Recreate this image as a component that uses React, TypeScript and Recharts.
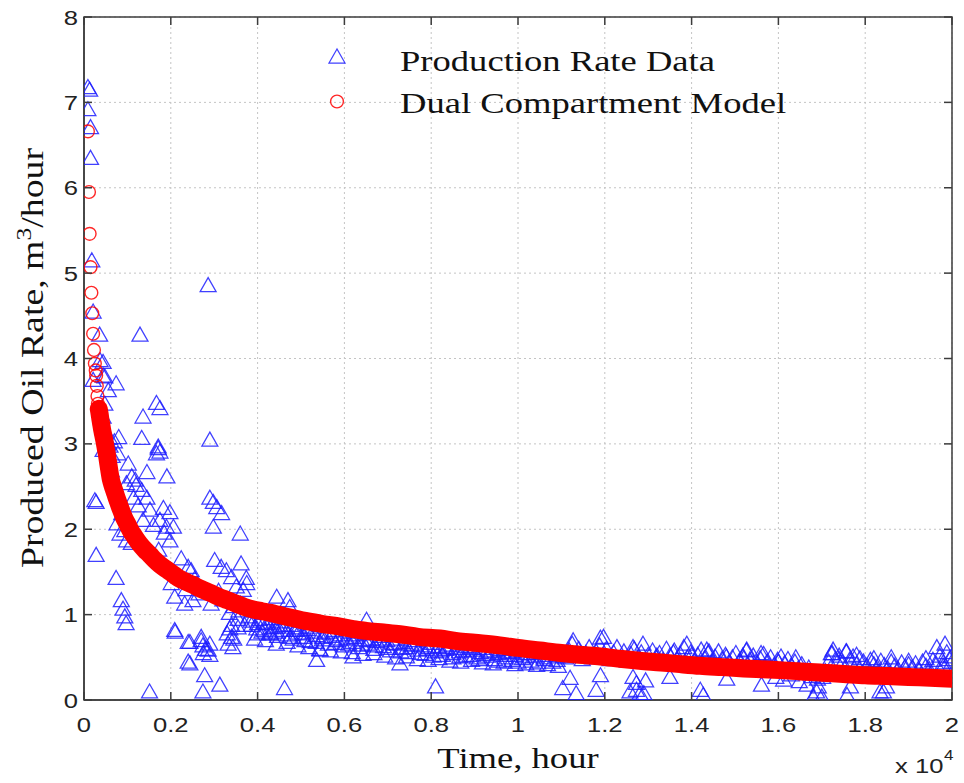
import React from 'react';
import { ScatterChart, Scatter, XAxis, YAxis, CartesianGrid, ReferenceArea, Legend } from 'recharts';

// ---------- DATA (time in units of 10^4 hours, rate in m3/hour) ----------
const xTicks = [0, 0.2, 0.4, 0.6, 0.8, 1, 1.2, 1.4, 1.6, 1.8, 2];
const yTicks = [0, 1, 2, 3, 4, 5, 6, 7, 8];
const seriesNames = ['Production Rate Data', 'Dual Compartment Model'];

const earlyScatter: [number, number][] = [
  [0.009, 7.18], [0.013, 7.15], [0.009, 6.92], [0.015, 6.71], [0.015, 6.35], [0.018, 5.15], [0.021, 4.55],
  [0.036, 4.28], [0.129, 4.28], [0.286, 4.86], [0.037, 3.98], [0.044, 3.96], [0.021, 3.75], [0.044, 3.8],
  [0.048, 3.79], [0.074, 3.71], [0.056, 3.63], [0.167, 3.48], [0.175, 3.42], [0.048, 3.47], [0.136, 3.32],
  [0.044, 3.32], [0.133, 3.07], [0.29, 3.05], [0.051, 3.08], [0.059, 3.07], [0.07, 3.03], [0.08, 3.08],
  [0.055, 3.01], [0.044, 2.93], [0.078, 2.89], [0.171, 2.97], [0.175, 2.91], [0.167, 2.89], [0.171, 2.95],
  [0.102, 2.77], [0.145, 2.67], [0.191, 2.62], [0.11, 2.62], [0.063, 2.69], [0.098, 2.54], [0.118, 2.58],
  [0.133, 2.46], [0.145, 2.37], [0.114, 2.37], [0.29, 2.37], [0.298, 2.32], [0.306, 2.26], [0.317, 2.19],
  [0.087, 2.19], [0.152, 2.23], [0.183, 2.25], [0.198, 2.2], [0.076, 2.07], [0.136, 2.11], [0.175, 2.11],
  [0.19, 2.03], [0.206, 2.03], [0.298, 2.03], [0.36, 1.95], [0.083, 1.95], [0.098, 1.87], [0.198, 1.87],
  [0.025, 2.34], [0.028, 2.32], [0.028, 1.7], [0.074, 1.43], [0.086, 1.17], [0.09, 1.07], [0.094, 0.98],
  [0.097, 0.9], [0.209, 0.82], [0.244, 0.68], [0.27, 0.74], [0.274, 0.64], [0.286, 0.59], [0.29, 0.53],
  [0.244, 0.43], [0.278, 0.29], [0.313, 0.18], [0.274, 0.1], [0.151, 0.1], [0.462, 0.14], [0.336, 0.84],
  [0.34, 0.74], [0.332, 0.66], [0.343, 0.62], [0.209, 1.21], [0.201, 1.37], [0.224, 1.66], [0.24, 1.56],
  [0.247, 1.52], [0.232, 1.13], [0.251, 1.17], [0.293, 1.13], [0.301, 1.64], [0.316, 1.56], [0.328, 1.52],
  [0.34, 1.44], [0.351, 1.33], [0.362, 1.6], [0.374, 1.43], [0.172, 1.76], [0.094, 1.99], [0.109, 1.84],
  [0.367, 1.29], [0.375, 1.37], [0.36, 1.13], [0.444, 1.21], [0.47, 1.17], [0.474, 1.09], [0.357, 1.05],
  [0.4, 0.9], [0.416, 0.82], [0.431, 0.78], [0.447, 0.86], [0.486, 0.82], [0.509, 0.7], [0.536, 0.47],
  [0.544, 0.59], [0.62, 0.51], [0.651, 0.94], [0.728, 0.43], [0.81, 0.16],
  [0.27, 0.7], [0.28, 0.6], [0.29, 0.66], [0.275, 0.55], [0.33, 0.78], [0.345, 0.72], [0.355, 0.85],
  [0.34, 0.88], [0.21, 0.8], [0.24, 0.68], [0.24, 0.45],
  [0.06, 2.98], [0.065, 2.86], [0.12, 2.52], [0.125, 2.28], [0.16, 2.05], [0.185, 1.96], [0.22, 1.45],
  [0.235, 1.3], [0.255, 1.42], [0.265, 1.25], [0.31, 1.28], [0.32, 1.18], [0.335, 1.02], [0.345, 1.1],
];

const bandUpper: [number, number][] = [
  [0.38, 0.98], [0.386, 0.88], [0.392, 1.05], [0.398, 0.84], [0.404, 0.95], [0.41, 0.8], [0.416, 1.02],
  [0.422, 0.9], [0.428, 0.78], [0.434, 0.96], [0.44, 0.86], [0.446, 0.75], [0.452, 0.92], [0.458, 0.82],
  [0.464, 0.98], [0.47, 0.77], [0.476, 0.88], [0.482, 0.72], [0.488, 0.85], [0.494, 0.79], [0.5, 0.93],
  [0.507, 0.74], [0.514, 0.83], [0.521, 0.69], [0.528, 0.8], [0.535, 0.76], [0.542, 0.88], [0.549, 0.71],
  [0.556, 0.79], [0.563, 0.66], [0.57, 0.75], [0.577, 0.82], [0.584, 0.7], [0.591, 0.77], [0.598, 0.64],
  [0.605, 0.73], [0.612, 0.8], [0.619, 0.68], [0.626, 0.74], [0.633, 0.62], [0.64, 0.71], [0.647, 0.78],
  [0.654, 0.66], [0.661, 0.72], [0.668, 0.6], [0.675, 0.69], [0.682, 0.75], [0.69, 0.63], [0.698, 0.7],
  [0.706, 0.58], [0.714, 0.67], [0.722, 0.72], [0.73, 0.61], [0.738, 0.68], [0.746, 0.56], [0.754, 0.65],
  [0.762, 0.7], [0.77, 0.59], [0.778, 0.64], [0.786, 0.54], [0.794, 0.62], [0.802, 0.67], [0.81, 0.57],
  [0.818, 0.63], [0.826, 0.53], [0.834, 0.6], [0.842, 0.65], [0.85, 0.55], [0.858, 0.61], [0.866, 0.51],
  [0.874, 0.58], [0.882, 0.63], [0.89, 0.53], [0.898, 0.59], [0.906, 0.5], [0.914, 0.56], [0.922, 0.61],
  [0.93, 0.52], [0.938, 0.57], [0.946, 0.48], [0.954, 0.55], [0.962, 0.6], [0.97, 0.5], [0.978, 0.56],
  [0.986, 0.47], [0.994, 0.53], [1.002, 0.58], [1.01, 0.49], [1.02, 0.55], [1.03, 0.46], [1.04, 0.52],
  [1.05, 0.56], [1.06, 0.48], [1.07, 0.53], [1.08, 0.45], [1.09, 0.51], [1.1, 0.55],
];

const bandLower: [number, number][] = [
  [0.393, 0.72], [0.418, 0.7], [0.443, 0.66], [0.468, 0.68], [0.493, 0.64], [0.518, 0.62], [0.543, 0.6],
  [0.568, 0.58], [0.593, 0.57], [0.618, 0.56], [0.643, 0.54], [0.668, 0.55], [0.693, 0.52], [0.718, 0.5],
  [0.743, 0.51], [0.768, 0.48], [0.793, 0.47], [0.818, 0.49], [0.843, 0.46], [0.868, 0.45], [0.893, 0.47],
  [0.918, 0.44], [0.943, 0.43], [0.968, 0.45], [0.993, 0.42], [1.018, 0.43], [1.043, 0.41], [1.068, 0.42],
  [1.093, 0.4],
];

const bandExtra: [number, number][] = [
  [0.355, 0.95], [0.37, 0.88], [0.385, 0.93], [0.4, 0.78], [0.415, 0.91], [0.43, 0.85], [0.445, 0.8],
  [0.46, 0.88], [0.475, 0.74], [0.49, 0.82], [0.505, 0.78], [0.52, 0.86], [0.535, 0.68], [0.55, 0.74],
  [0.565, 0.8], [0.58, 0.67], [0.595, 0.72], [0.61, 0.66], [0.625, 0.77], [0.64, 0.65], [0.655, 0.7],
  [0.67, 0.64], [0.685, 0.72], [0.7, 0.61], [0.715, 0.66], [0.73, 0.57], [0.745, 0.62], [0.76, 0.66],
  [0.775, 0.55], [0.79, 0.6], [0.805, 0.52], [0.82, 0.58], [0.835, 0.62], [0.85, 0.5], [0.865, 0.57],
  [0.88, 0.52], [0.895, 0.61], [0.91, 0.48], [0.925, 0.54], [0.94, 0.58], [0.955, 0.46], [0.97, 0.53],
  [0.985, 0.57], [1.0, 0.45], [1.015, 0.51], [1.03, 0.55], [1.045, 0.44], [1.06, 0.5], [1.075, 0.56],
  [1.09, 0.47], [1.105, 0.52], [1.32, 0.52], [1.36, 0.58], [1.4, 0.53], [1.44, 0.57], [1.48, 0.51],
  [1.52, 0.49], [1.56, 0.55], [1.6, 0.45], [1.64, 0.5], [1.74, 0.48], [1.78, 0.53], [1.82, 0.49],
  [1.86, 0.5], [1.9, 0.42], [1.94, 0.49], [1.98, 0.4],
];

const bandMid: [number, number][] = [
  [1.11, 0.5], [1.118, 0.58], [1.125, 0.66], [1.132, 0.52], [1.14, 0.6], [1.148, 0.48], [1.156, 0.55],
  [1.164, 0.62], [1.172, 0.5], [1.18, 0.57], [1.188, 0.64], [1.196, 0.53], [1.204, 0.6], [1.212, 0.48],
  [1.22, 0.56], [1.228, 0.62], [1.236, 0.5], [1.244, 0.57], [1.252, 0.46], [1.26, 0.54], [1.268, 0.6],
  [1.276, 0.49], [1.284, 0.56], [1.292, 0.45], [1.3, 0.53],
  [1.31, 0.58], [1.318, 0.5], [1.326, 0.55], [1.334, 0.47], [1.342, 0.6], [1.35, 0.52], [1.358, 0.56],
  [1.366, 0.48], [1.374, 0.54], [1.382, 0.62], [1.39, 0.5], [1.398, 0.56], [1.406, 0.46], [1.414, 0.53],
  [1.422, 0.59], [1.43, 0.49], [1.438, 0.55], [1.446, 0.45], [1.454, 0.51], [1.462, 0.57], [1.47, 0.48],
  [1.478, 0.53], [1.486, 0.44], [1.494, 0.5], [1.502, 0.55], [1.51, 0.46], [1.518, 0.52], [1.526, 0.58],
  [1.534, 0.47], [1.542, 0.52], [1.55, 0.43], [1.558, 0.49], [1.566, 0.54], [1.574, 0.45], [1.582, 0.5],
  [1.59, 0.41], [1.598, 0.47], [1.606, 0.51], [1.614, 0.43], [1.622, 0.48], [1.63, 0.4], [1.638, 0.45],
  [1.646, 0.37], [1.654, 0.42], [1.662, 0.33], [1.67, 0.38], [1.678, 0.28], [1.684, 0.32], [1.69, 0.25],
  [1.696, 0.3], [1.702, 0.27], [1.708, 0.34],
];

const bandLate: [number, number][] = [
  [1.716, 0.45], [1.724, 0.55], [1.732, 0.48], [1.74, 0.52], [1.748, 0.44], [1.756, 0.57], [1.764, 0.47],
  [1.772, 0.51], [1.78, 0.42], [1.788, 0.49], [1.796, 0.45], [1.804, 0.4], [1.812, 0.47], [1.82, 0.42],
  [1.828, 0.38], [1.836, 0.46], [1.844, 0.41], [1.852, 0.37], [1.86, 0.45], [1.868, 0.4], [1.876, 0.36],
  [1.884, 0.44], [1.892, 0.39], [1.9, 0.46], [1.908, 0.38], [1.916, 0.43], [1.924, 0.35], [1.932, 0.45],
  [1.94, 0.4], [1.948, 0.36], [1.956, 0.47], [1.964, 0.42], [1.972, 0.52], [1.98, 0.44], [1.988, 0.56],
  [1.994, 0.48], [2.0, 0.45],
];

const lateOutliers: [number, number][] = [
  [1.127, 0.7], [1.19, 0.73], [1.197, 0.74], [1.12, 0.26], [1.103, 0.14], [1.134, 0.08], [1.19, 0.29],
  [1.18, 0.12], [1.265, 0.27], [1.273, 0.12], [1.281, 0.08], [1.288, 0.66], [1.265, 0.62], [1.273, 0.2],
  [1.258, 0.1], [1.389, 0.66], [1.435, 0.59], [1.527, 0.59], [1.42, 0.12], [1.427, 0.06], [1.35, 0.27],
  [1.481, 0.25], [1.561, 0.18], [1.688, 0.1], [1.68, 0.04], [1.7, 0.04], [1.692, 0.16], [1.726, 0.59],
  [1.757, 0.57], [1.722, 0.55], [1.766, 0.16], [1.758, 0.06], [1.834, 0.1], [1.849, 0.16], [1.842, 0.1],
  [1.965, 0.62], [1.984, 0.66], [1.999, 0.51], [1.594, 0.27], [1.612, 0.24], [1.63, 0.3], [1.648, 0.22],
  [1.666, 0.18], [1.294, 0.23], [1.29, 0.08],
];

const modelPoints: [number, number][] = [
  [0.009, 6.66], [0.0115, 5.95], [0.013, 5.46], [0.015, 5.07], [0.017, 4.77], [0.019, 4.53], [0.021, 4.29],
  [0.023, 4.1], [0.025, 3.94], [0.027, 3.86], [0.028, 3.8], [0.0295, 3.68], [0.031, 3.56], [0.032, 3.47],
  [0.034, 3.41], [0.036, 3.35], [0.038, 3.28], [0.04, 3.22], [0.042, 3.16], [0.044, 3.11], [0.046, 3.06],
  [0.048, 3.01], [0.05, 2.95], [0.052, 2.9], [0.055, 2.8], [0.058, 2.7], [0.062, 2.58], [0.066, 2.51],
  [0.07, 2.45], [0.075, 2.37], [0.08, 2.3], [0.085, 2.23], [0.092, 2.14], [0.1, 2.06], [0.108, 1.98],
  [0.117, 1.91], [0.128, 1.83], [0.14, 1.76], [0.152, 1.7], [0.163, 1.64], [0.176, 1.58], [0.19, 1.53],
  [0.204, 1.48], [0.217, 1.43], [0.233, 1.39], [0.25, 1.35], [0.27, 1.3], [0.293, 1.25], [0.31, 1.21],
  [0.33, 1.17], [0.35, 1.13], [0.37, 1.09], [0.39, 1.06], [0.41, 1.04], [0.43, 1.02], [0.447, 1.0],
  [0.48, 0.96], [0.516, 0.92], [0.55, 0.89], [0.59, 0.86], [0.62, 0.83], [0.65, 0.81], [0.69, 0.79],
  [0.728, 0.77], [0.77, 0.74], [0.82, 0.72], [0.86, 0.69], [0.9, 0.67], [0.958, 0.64], [1.0, 0.61],
  [1.05, 0.58], [1.1, 0.55], [1.14, 0.53], [1.19, 0.51], [1.24, 0.48], [1.28, 0.46], [1.33, 0.44],
  [1.373, 0.42], [1.42, 0.4], [1.47, 0.385], [1.52, 0.37], [1.56, 0.36], [1.604, 0.35], [1.65, 0.335],
  [1.7, 0.32], [1.75, 0.305], [1.8, 0.29], [1.85, 0.28], [1.9, 0.27], [1.95, 0.26], [2.0, 0.25],
];

// ---------- derived tables ----------
const toRows = (arr: [number, number][]) => arr.map(([t, v]) => ({ t, v }));
const productionData = toRows([
  ...earlyScatter, ...bandUpper, ...bandLower, ...bandExtra, ...bandMid, ...bandLate, ...lateOutliers,
]);
const modelData = toRows(modelPoints);
const modelBandData = toRows(modelPoints.filter(([t]) => t >= 0.034));

// ---------- styling ----------
const W = 964;
const H = 783;
const PLOT = { left: 84, right: 952, top: 17, bottom: 700 };
const SX = 1.22;
const AXIS = '#3c3c3c';
const BLUE = '#1f1fff';
const RED = '#ff0000';
const SANS = '"Liberation Sans", Arial, Helvetica, sans-serif';
const SERIF = '"Liberation Serif", "Times New Roman", serif';

const fmtTick = (v: number) => String(Number(v.toFixed(1)));

const TriangleShape = (props: any) => {
  const { cx, cy } = props;
  if (cx == null || cy == null) return <g />;
  return (
    <polygon
      points={`${cx},${cy - 7.5} ${cx - 8},${cy + 6.5} ${cx + 8},${cy + 6.5}`}
      fill="none"
      stroke={BLUE}
      strokeWidth={1.25}
      strokeOpacity={0.85}
    />
  );
};

const CircleShape = (props: any) => {
  const { cx, cy } = props;
  if (cx == null || cy == null) return <g />;
  return <circle cx={cx} cy={cy} r={6.4} fill="none" stroke={RED} strokeWidth={1.4} strokeOpacity={0.85} />;
};

const XTick = (props: any) => {
  const { x, payload } = props;
  return (
    <g>
      <line x1={x} x2={x} y1={PLOT.bottom} y2={PLOT.bottom - 8} stroke={AXIS} strokeWidth={1.5} />
      <line x1={x} x2={x} y1={PLOT.top} y2={PLOT.top + 8} stroke={AXIS} strokeWidth={1.5} />
      <text
        transform={`translate(${x},732) scale(${SX},1)`}
        textAnchor="middle"
        fontFamily={SANS}
        fontSize={21}
        fill="#222"
      >
        {fmtTick(payload.value)}
      </text>
    </g>
  );
};

const YTick = (props: any) => {
  const { y, payload } = props;
  return (
    <g>
      <line x1={PLOT.left} x2={PLOT.left + 8} y1={y} y2={y} stroke={AXIS} strokeWidth={1.5} />
      <line x1={PLOT.right} x2={PLOT.right - 8} y1={y} y2={y} stroke={AXIS} strokeWidth={1.5} />
      <text
        transform={`translate(78,${y + 7.5}) scale(${SX},1)`}
        textAnchor="end"
        fontFamily={SANS}
        fontSize={21}
        fill="#222"
      >
        {fmtTick(payload.value)}
      </text>
    </g>
  );
};

const XTitle = () => (
  <g>
    <text
      transform={`translate(518,768) scale(${SX},1)`}
      textAnchor="middle"
      fontFamily={SERIF}
      fontSize={30}
      fill="#111"
    >
      Time, hour
    </text>
    <text transform={`translate(895,773) scale(${SX},1)`} fontFamily={SANS} fontSize={21} fill="#222">
      x 10
    </text>
    <text transform={`translate(944,760) scale(${SX},1)`} fontFamily={SANS} fontSize={14} fill="#222">
      4
    </text>
  </g>
);

const YTitle = () => (
  <text
    transform={`translate(43,358) rotate(-90) scale(${SX},1)`}
    textAnchor="middle"
    fontFamily={SERIF}
    fontSize={31}
    fill="#111"
  >
    <tspan>Produced Oil Rate, m</tspan>
    <tspan fontSize={21} dy={-12}>3</tspan>
    <tspan dy={12}>/hour</tspan>
  </text>
);

const LegendContent = () => (
  <svg width={W} height={130} style={{ display: 'block', overflow: 'visible' }}>
    <polygon points="337,49 329,63 345,63" fill="none" stroke={BLUE} strokeWidth={1.25} strokeOpacity={0.85} />
    <circle cx={337} cy={101.5} r={6.4} fill="none" stroke={RED} strokeWidth={1.4} strokeOpacity={0.85} />
    <text transform={`translate(400,71) scale(${SX},1)`} fontFamily={SERIF} fontSize={30} fill="#111">
      {seriesNames[0]}
    </text>
    <text transform={`translate(400,113) scale(${SX},1)`} fontFamily={SERIF} fontSize={30} fill="#111">
      {seriesNames[1]}
    </text>
  </svg>
);

export default function App() {
  return (
    <div style={{ position: 'absolute', left: 0, top: 0, width: W, height: H, background: '#fff' }}>
      <ScatterChart
        width={W}
        height={H}
        margin={{ top: PLOT.top, right: W - PLOT.right, bottom: 0, left: 0 }}
      >
        <CartesianGrid stroke="#c4c4c4" strokeDasharray="2 3" strokeWidth={1} />
        <XAxis
          type="number"
          dataKey="t"
          domain={[0, 2]}
          ticks={xTicks}
          interval={0}
          allowDataOverflow
          height={H - PLOT.bottom}
          axisLine={{ stroke: AXIS, strokeWidth: 1.5 }}
          tickLine={false}
          tick={<XTick />}
          label={{ content: () => <XTitle /> }}
        />
        <YAxis
          type="number"
          dataKey="v"
          domain={[0, 8]}
          ticks={yTicks}
          interval={0}
          allowDataOverflow
          width={PLOT.left}
          axisLine={{ stroke: AXIS, strokeWidth: 1.5 }}
          tickLine={false}
          tick={<YTick />}
          label={{ content: () => <YTitle /> }}
        />
        <ReferenceArea x1={0} x2={2} y1={0} y2={8} fill="none" stroke={AXIS} strokeWidth={1.5} fillOpacity={0} />
        <Legend
          layout="vertical"
          align="center"
          verticalAlign="middle"
          wrapperStyle={{ position: 'absolute', left: 0, top: 0, width: W, height: 130, pointerEvents: 'none' }}
          content={() => <LegendContent />}
        />
        <Scatter
          name={seriesNames[0]}
          data={productionData}
          shape={<TriangleShape />}
          isAnimationActive={false}
        />
        <Scatter
          name="model-band"
          data={modelBandData}
          line={{ stroke: RED, strokeWidth: 18, strokeLinecap: 'round', strokeLinejoin: 'round' }}
          lineJointType="monotoneX"
          shape={() => <g />}
          legendType="none"
          isAnimationActive={false}
        />
        <Scatter
          name={seriesNames[1]}
          data={modelData}
          shape={<CircleShape />}
          isAnimationActive={false}
        />
      </ScatterChart>
    </div>
  );
}
